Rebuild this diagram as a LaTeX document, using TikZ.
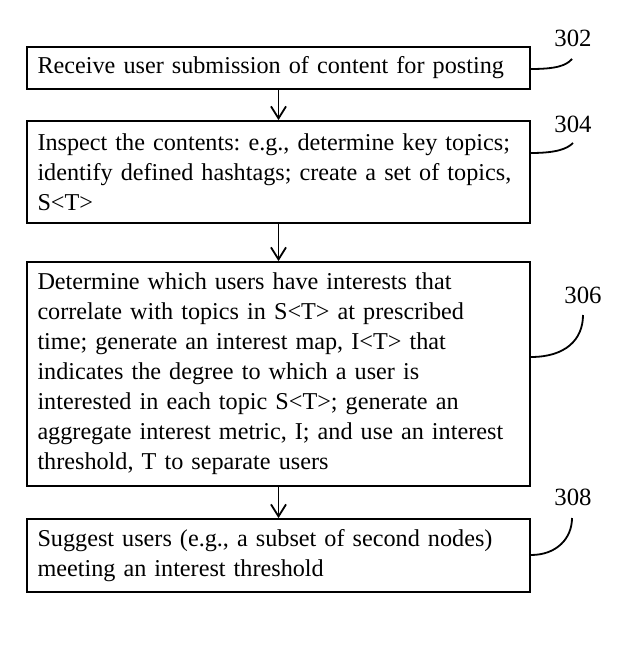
\documentclass[tikz,border=0pt]{standalone}
\usepackage{fontspec}
\setmainfont{Liberation Serif}
\usetikzlibrary{arrows.meta}
\newcommand\stepfont{\fontsize{12.1}{15}\selectfont\frenchspacing\hyphenpenalty=10000\relax}

\begin{document}
\begin{tikzpicture}[x=0.5pt,y=-0.5pt,
    box/.style={draw, line width=0.9pt, rectangle, minimum width=251.5pt, text width=241pt,
      align=left, inner xsep=5.25pt, font=\stepfont},
    lbl/.style={font=\fontsize{12.4}{15}\selectfont},
    link/.style={-{Straight Barb[length=6pt,width=7.5pt]}, line width=0.9pt},
    lead/.style={line width=0.9pt}]
      \useasboundingbox (0,0) rectangle (619,662);
      \node[box, minimum height=21pt] (s302) at (278.5,68) {Receive user submission of content for posting};
      \node[box, minimum height=51pt] (s304) at (278.5,172) {Inspect the contents: e.g., determine key topics;\\
        identify defined hashtags; create a set of topics,\\ S<T>};
      \node[box, minimum height=112pt] (s306) at (278.5,374) {Determine which users have interests that\\
        correlate with topics in S<T> at prescribed\\ time; generate an interest map, I<T> that\\
        indicates the degree to which a user is\\ interested in each topic S<T>; generate an\\
        aggregate interest metric, I; and use an interest\\ threshold, T to separate users};
      \node[box, minimum height=36.5pt] (s308) at (278.5,555.5) {Suggest users (e.g., a subset of second nodes)\\
        meeting an interest threshold};
      \draw[link] (s302) -- (s304);
      \draw[link] (s304) -- (s306);
      \draw[link] (s306) -- (s308);
      \node[lbl] (n302) at (573,38) {302};
      \node[lbl] (n304) at (573,124) {304};
      \node[lbl] (n306) at (583,295) {306};
      \node[lbl] (n308) at (573,497) {308};
      \coordinate (e302) at (572,59);
      \coordinate (e304) at (573,143);
      \coordinate (e306) at (583,315);
      \coordinate (e308) at (572,518);
      \draw[lead] (s302.east |- 0,69) .. controls (555,69) and (566,66) .. (e302);
      \draw[lead] (s304.east |- 0,153) .. controls (556,153) and (567,149) .. (e304);
      \draw[lead] (s306.east |- 0,357) .. controls (565,357) and (583,340) .. (e306);
      \draw[lead] (s308.east |- 0,555) .. controls (557,555) and (572,538) .. (e308);
\end{tikzpicture}
\end{document}
